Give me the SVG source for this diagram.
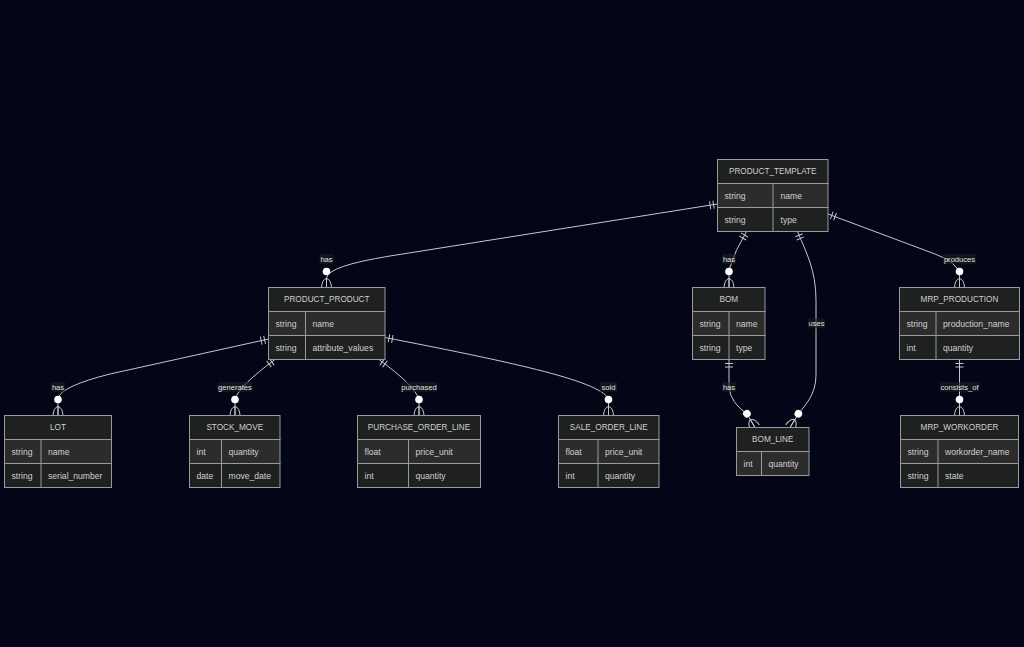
<svg xmlns="http://www.w3.org/2000/svg" xmlns:xlink="http://www.w3.org/1999/xlink" width="1024" height="647" viewBox="0 0 1024 647">
<style>
.bg{fill:#020617}
.box{stroke:#9a9a9a;stroke-width:1}
.hd{fill:#1f2020}
.r1{fill:#2c2c2c}
.r2{fill:#1f2020}
.dv{stroke:#9a9a9a;stroke-width:1}
.ht{font-family:"Liberation Sans",Arial,sans-serif;font-size:8.2px;fill:#d0d0d0;text-anchor:middle;dominant-baseline:central}
.at{font-family:"Liberation Sans",Arial,sans-serif;font-size:8.6px;fill:#d0d0d0;dominant-baseline:central}
.ln{fill:none;stroke:#c8c8c8;stroke-width:1}
.lb{font-family:"Liberation Sans",Arial,sans-serif;font-size:7.6px;fill:#e0e0e0;text-anchor:middle;dominant-baseline:central}
.lbg{fill:#1f2020;opacity:0.6}
</style>
<defs>
<g id="one"><path d="M-4,4 L4,4 M-4,7.5 L4,7.5" fill="none" stroke="#c8c8c8" stroke-width="1"/></g>
<g id="zmany"><circle cx="0" cy="-16" r="3.8" fill="#ffffff"/><path d="M-5,0 Q-4.5,-8 0,-9 Q4.5,-8 5,0 M0,-9 L0,0" fill="none" stroke="#c8c8c8" stroke-width="1"/></g>
</defs>
<rect class="bg" x="0" y="0" width="1024" height="647"/>

<g id="connectors">
<path class="ln" d="M717.5,204 L390,256 Q328,266 326.5,278 L326.5,287.5"/>
<path class="ln" d="M746.5,231.5 Q735,250 729,270 L729,287.5"/>
<path class="ln" d="M797.5,231.5 C806,252 816,270 816,300 L816,375 C816,395 805,405 798.5,413.8 L790,427.5"/>
<path class="ln" d="M828,214 L935,254 Q957,262 959.5,274 L959.5,287.5"/>
<path class="ln" d="M729,359.5 L729,388 Q731,403 746.8,413.7 L755,427.5"/>
<path class="ln" d="M959.5,359.5 L959.5,415.5"/>
<path class="ln" d="M268.5,339 L110,374 Q62,386 58,398 L58,415.5"/>
<path class="ln" d="M275,359.5 Q240,385 235,399 L235,415.5"/>
<path class="ln" d="M379,359.5 Q414,385 419,399 L419,415.5"/>
<path class="ln" d="M385,337.5 C500,360 600,380 608.5,399 L608.5,415.5"/>
<use xlink:href="#one" href="#one" transform="translate(717.5,204) rotate(80.6)"/>
<use xlink:href="#one" href="#one" transform="translate(746.5,231.5) rotate(31)"/>
<use xlink:href="#one" href="#one" transform="translate(797.5,231.5) rotate(-22.5)"/>
<use xlink:href="#one" href="#one" transform="translate(828,214) rotate(-69.5)"/>
<use xlink:href="#one" href="#one" transform="translate(729,359.5)"/>
<use xlink:href="#one" href="#one" transform="translate(959.5,359.5)"/>
<use xlink:href="#one" href="#one" transform="translate(268.5,339) rotate(77.5)"/>
<use xlink:href="#one" href="#one" transform="translate(275,359.5) rotate(54)"/>
<use xlink:href="#one" href="#one" transform="translate(379,359.5) rotate(-54)"/>
<use xlink:href="#one" href="#one" transform="translate(385,337.5) rotate(-79)"/>
<use xlink:href="#zmany" href="#zmany" transform="translate(326.5,287.5)"/>
<use xlink:href="#zmany" href="#zmany" transform="translate(729,287.5)"/>
<use xlink:href="#zmany" href="#zmany" transform="translate(959.5,287.5)"/>
<use xlink:href="#zmany" href="#zmany" transform="translate(959.5,415.5)"/>
<use xlink:href="#zmany" href="#zmany" transform="translate(58,415.5)"/>
<use xlink:href="#zmany" href="#zmany" transform="translate(235,415.5)"/>
<use xlink:href="#zmany" href="#zmany" transform="translate(419,415.5)"/>
<use xlink:href="#zmany" href="#zmany" transform="translate(608.5,415.5)"/>
<use xlink:href="#zmany" href="#zmany" transform="translate(755,427.5) rotate(-30.3)"/>
<use xlink:href="#zmany" href="#zmany" transform="translate(790,427.5) rotate(31.5)"/>
<rect class="lbg" x="319.5" y="254" width="14" height="10"/><text class="lb" x="326.5" y="259">has</text>
<rect class="lbg" x="722" y="254" width="14" height="10"/><text class="lb" x="729" y="259">has</text>
<rect class="lbg" x="808" y="318.5" width="17" height="10"/><text class="lb" x="816.5" y="323.5">uses</text>
<rect class="lbg" x="943" y="254" width="33" height="10"/><text class="lb" x="959.5" y="259">produces</text>
<rect class="lbg" x="722" y="382" width="14" height="10"/><text class="lb" x="729" y="387">has</text>
<rect class="lbg" x="940" y="382" width="39" height="10"/><text class="lb" x="959.5" y="387">consists_of</text>
<rect class="lbg" x="51" y="382" width="14" height="10"/><text class="lb" x="58" y="387">has</text>
<rect class="lbg" x="217.5" y="382" width="35" height="10"/><text class="lb" x="235" y="387">generates</text>
<rect class="lbg" x="401" y="382" width="36" height="10"/><text class="lb" x="419" y="387">purchased</text>
<rect class="lbg" x="600" y="382" width="17" height="10"/><text class="lb" x="608.5" y="387">sold</text>
</g>

<g id="PRODUCT_TEMPLATE">
<rect class="hd box" x="717.5" y="159.5" width="110.5" height="24"/>
<rect class="r1 box" x="717.5" y="183.5" width="110.5" height="24"/>
<rect class="r2 box" x="717.5" y="207.5" width="110.5" height="24"/>
<line class="dv" x1="773" y1="183.5" x2="773" y2="231.5"/>
<text class="ht" x="772.75" y="171.5">PRODUCT_TEMPLATE</text>
<text class="at" x="724.5" y="195.5">string</text><text class="at" x="780.5" y="195.5">name</text>
<text class="at" x="724.5" y="219.5">string</text><text class="at" x="780.5" y="219.5">type</text>
</g>

<g id="PRODUCT_PRODUCT">
<rect class="hd box" x="268.5" y="287.5" width="116.5" height="24"/>
<rect class="r1 box" x="268.5" y="311.5" width="116.5" height="24"/>
<rect class="r2 box" x="268.5" y="335.5" width="116.5" height="24"/>
<line class="dv" x1="305.5" y1="311.5" x2="305.5" y2="359.5"/>
<text class="ht" x="326.75" y="299.5">PRODUCT_PRODUCT</text>
<text class="at" x="275.5" y="323.5">string</text><text class="at" x="312.5" y="323.5">name</text>
<text class="at" x="275.5" y="347.5">string</text><text class="at" x="312.5" y="347.5">attribute_values</text>
</g>

<g id="BOM">
<rect class="hd box" x="692.5" y="287.5" width="72.5" height="24"/>
<rect class="r1 box" x="692.5" y="311.5" width="72.5" height="24"/>
<rect class="r2 box" x="692.5" y="335.5" width="72.5" height="24"/>
<line class="dv" x1="729" y1="311.5" x2="729" y2="359.5"/>
<text class="ht" x="728.75" y="299.5">BOM</text>
<text class="at" x="699.5" y="323.5">string</text><text class="at" x="736" y="323.5">name</text>
<text class="at" x="699.5" y="347.5">string</text><text class="at" x="736" y="347.5">type</text>
</g>

<g id="MRP_PRODUCTION">
<rect class="hd box" x="899.5" y="287.5" width="120" height="24"/>
<rect class="r1 box" x="899.5" y="311.5" width="120" height="24"/>
<rect class="r2 box" x="899.5" y="335.5" width="120" height="24"/>
<line class="dv" x1="936" y1="311.5" x2="936" y2="359.5"/>
<text class="ht" x="959.5" y="299.5">MRP_PRODUCTION</text>
<text class="at" x="906.5" y="323.5">string</text><text class="at" x="943" y="323.5">production_name</text>
<text class="at" x="906.5" y="347.5">int</text><text class="at" x="943" y="347.5">quantity</text>
</g>

<g id="BOM_LINE">
<rect class="hd box" x="736.5" y="427.5" width="72.5" height="24"/>
<rect class="r1 box" x="736.5" y="451.5" width="72.5" height="24"/>
<line class="dv" x1="761.5" y1="451.5" x2="761.5" y2="475.5"/>
<text class="ht" x="772.75" y="439.5">BOM_LINE</text>
<text class="at" x="743.5" y="463.5">int</text><text class="at" x="768.5" y="463.5">quantity</text>
</g>

<g id="MRP_WORKORDER">
<rect class="hd box" x="900.5" y="415.5" width="118" height="24"/>
<rect class="r1 box" x="900.5" y="439.5" width="118" height="24"/>
<rect class="r2 box" x="900.5" y="463.5" width="118" height="24"/>
<line class="dv" x1="938" y1="439.5" x2="938" y2="487.5"/>
<text class="ht" x="959.5" y="427.5">MRP_WORKORDER</text>
<text class="at" x="907.5" y="451.5">string</text><text class="at" x="945" y="451.5">workorder_name</text>
<text class="at" x="907.5" y="475.5">string</text><text class="at" x="945" y="475.5">state</text>
</g>

<g id="LOT">
<rect class="hd box" x="4.5" y="415.5" width="107" height="24"/>
<rect class="r1 box" x="4.5" y="439.5" width="107" height="24"/>
<rect class="r2 box" x="4.5" y="463.5" width="107" height="24"/>
<line class="dv" x1="41" y1="439.5" x2="41" y2="487.5"/>
<text class="ht" x="58" y="427.5">LOT</text>
<text class="at" x="11.5" y="451.5">string</text><text class="at" x="48" y="451.5">name</text>
<text class="at" x="11.5" y="475.5">string</text><text class="at" x="48" y="475.5">serial_number</text>
</g>

<g id="STOCK_MOVE">
<rect class="hd box" x="189.5" y="415.5" width="90.5" height="24"/>
<rect class="r1 box" x="189.5" y="439.5" width="90.5" height="24"/>
<rect class="r2 box" x="189.5" y="463.5" width="90.5" height="24"/>
<line class="dv" x1="221.5" y1="439.5" x2="221.5" y2="487.5"/>
<text class="ht" x="234.75" y="427.5">STOCK_MOVE</text>
<text class="at" x="196.5" y="451.5">int</text><text class="at" x="228.5" y="451.5">quantity</text>
<text class="at" x="196.5" y="475.5">date</text><text class="at" x="228.5" y="475.5">move_date</text>
</g>

<g id="PURCHASE_ORDER_LINE">
<rect class="hd box" x="357.5" y="415.5" width="123" height="24"/>
<rect class="r1 box" x="357.5" y="439.5" width="123" height="24"/>
<rect class="r2 box" x="357.5" y="463.5" width="123" height="24"/>
<line class="dv" x1="408.5" y1="439.5" x2="408.5" y2="487.5"/>
<text class="ht" x="419" y="427.5">PURCHASE_ORDER_LINE</text>
<text class="at" x="364.5" y="451.5">float</text><text class="at" x="415.5" y="451.5">price_unit</text>
<text class="at" x="364.5" y="475.5">int</text><text class="at" x="415.5" y="475.5">quantity</text>
</g>

<g id="SALE_ORDER_LINE">
<rect class="hd box" x="558.5" y="415.5" width="100.5" height="24"/>
<rect class="r1 box" x="558.5" y="439.5" width="100.5" height="24"/>
<rect class="r2 box" x="558.5" y="463.5" width="100.5" height="24"/>
<line class="dv" x1="598" y1="439.5" x2="598" y2="487.5"/>
<text class="ht" x="608.75" y="427.5">SALE_ORDER_LINE</text>
<text class="at" x="565.5" y="451.5">float</text><text class="at" x="605" y="451.5">price_unit</text>
<text class="at" x="565.5" y="475.5">int</text><text class="at" x="605" y="475.5">quantity</text>
</g>
</svg>
